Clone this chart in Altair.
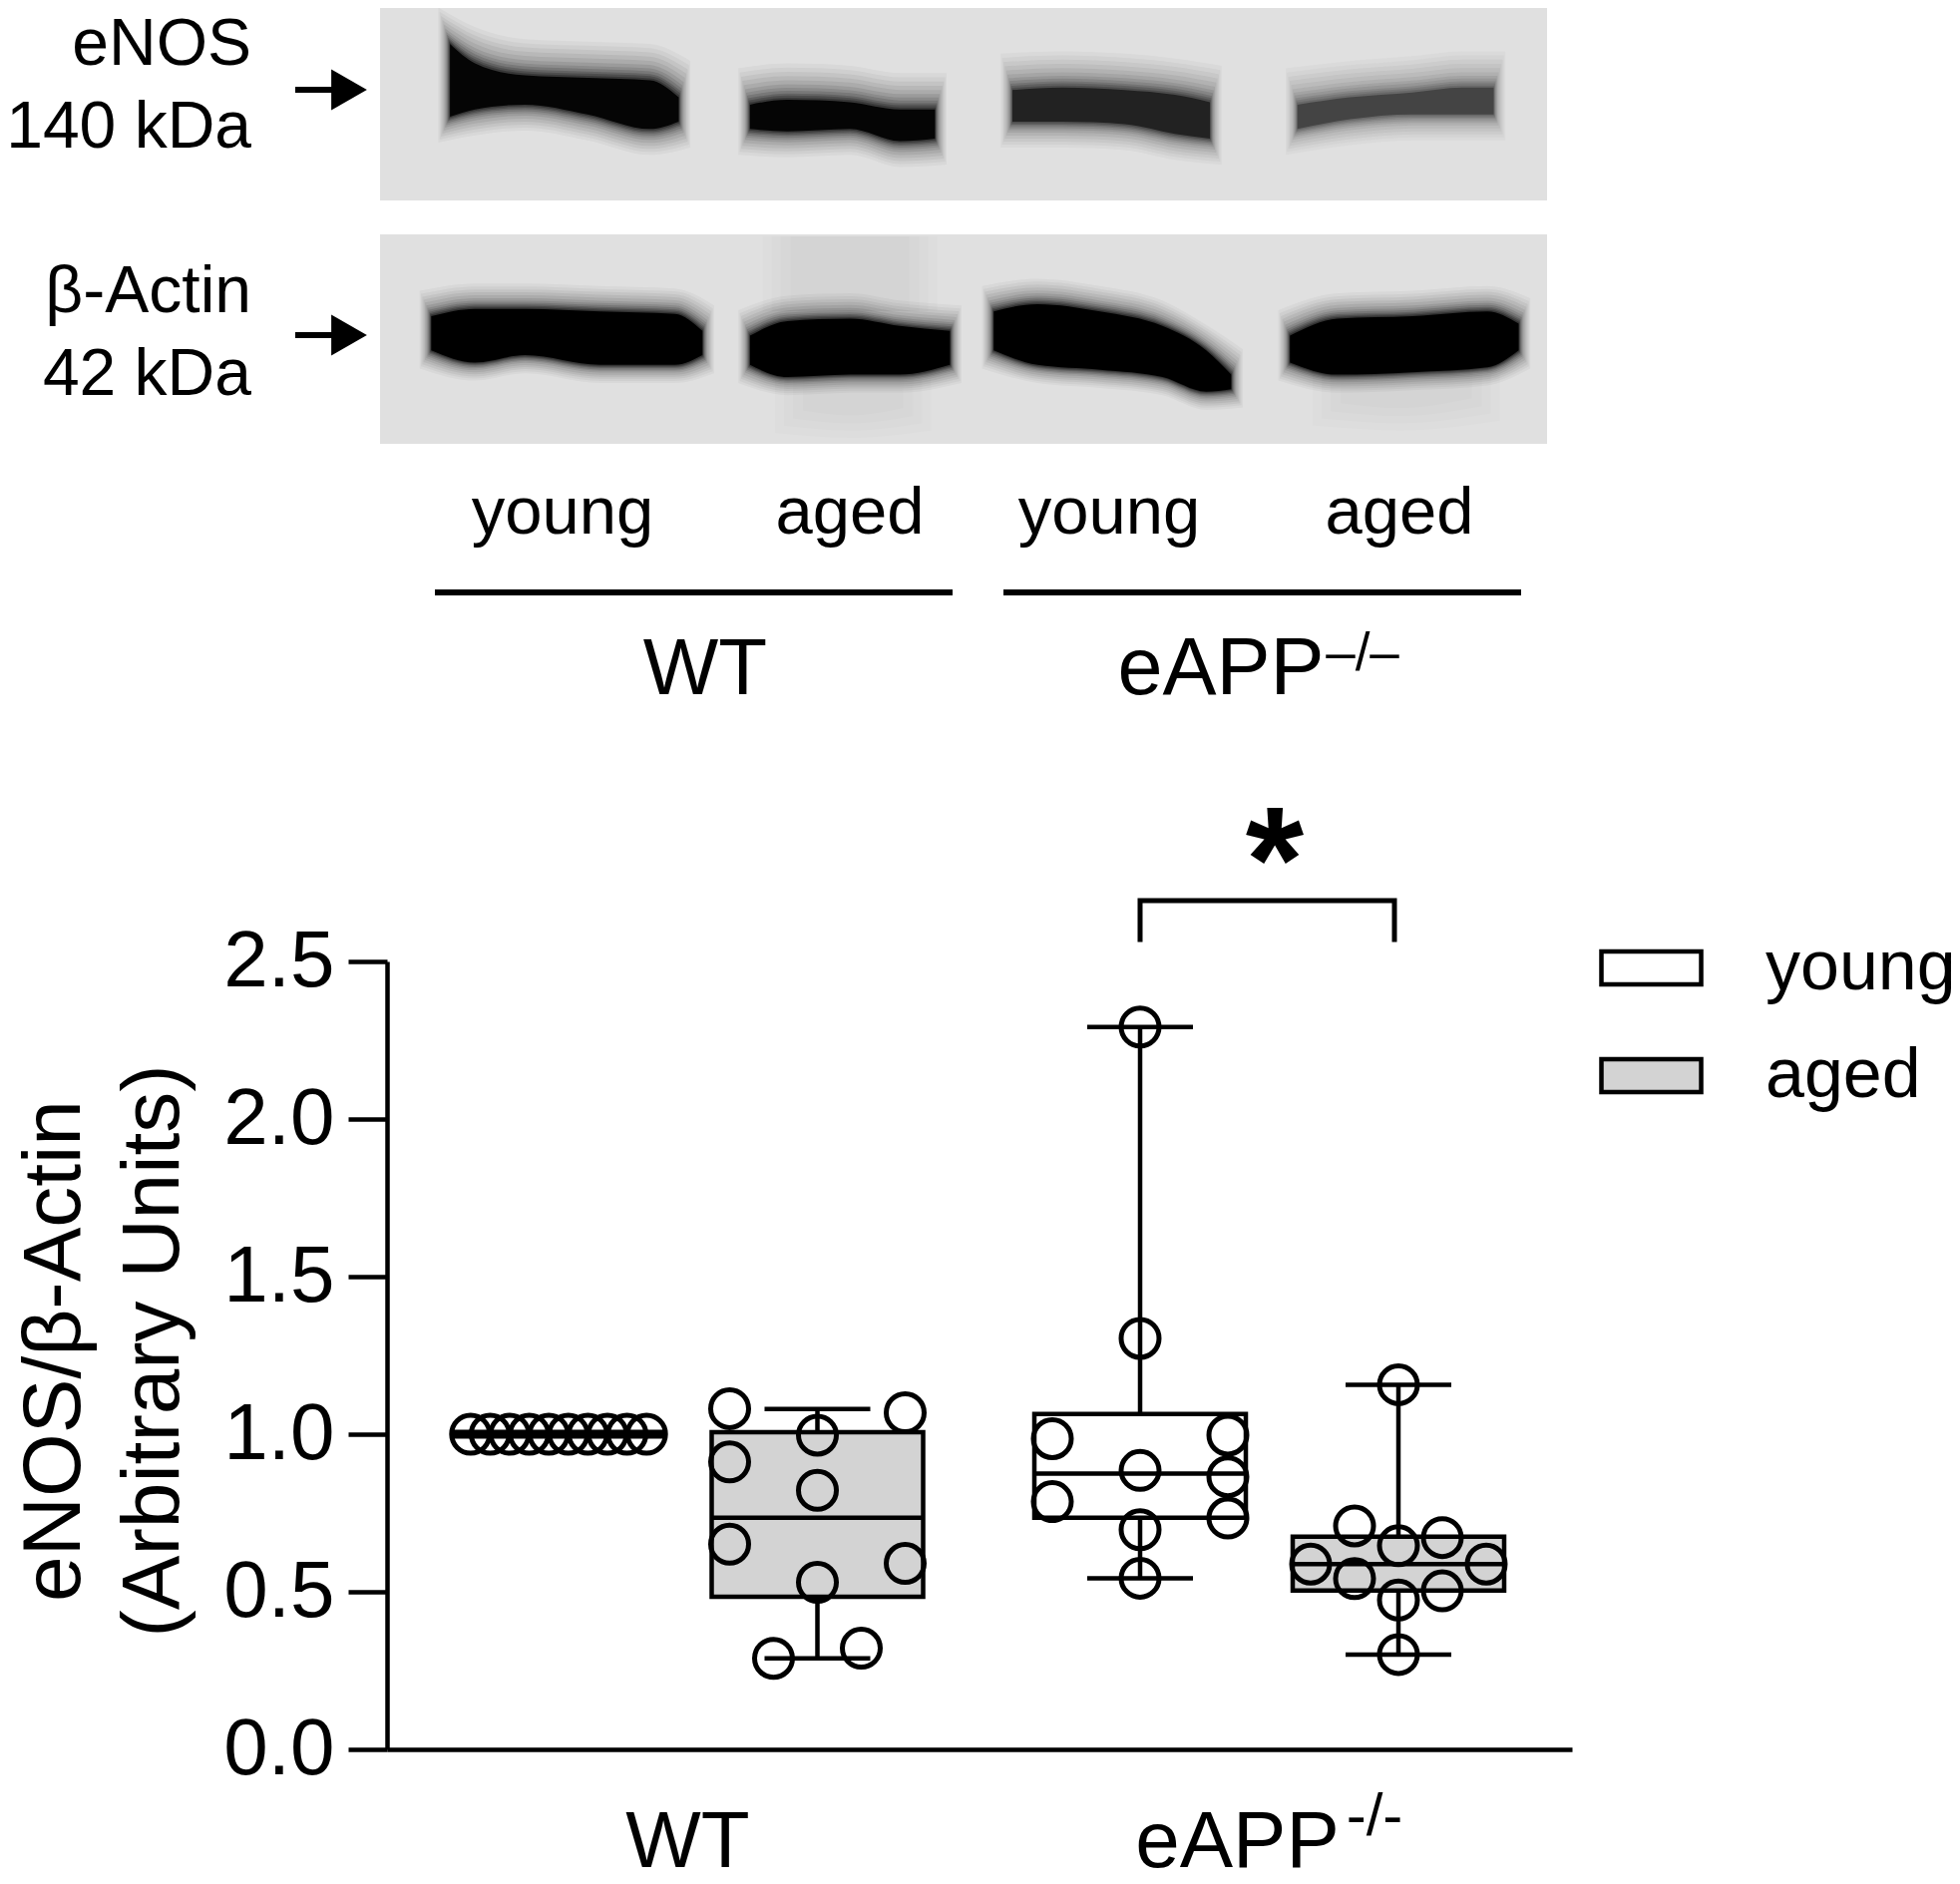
import altair as alt
import pandas as pd

FONT = "Liberation Sans"
# ---------- measured values ----------
AGES = ["young", "aged"]
GROUPS = ["WT", "eAPP"]
SLOT_X = {"WT young": 560, "WT aged": 819.5, "eAPP young": 1143, "eAPP aged": 1402}
SLOT_AGE = {"WT young": "young", "WT aged": "aged", "eAPP young": "young", "eAPP aged": "aged"}

wt_young = [1.0] * 10
wt_young_col = [-9, -7, -5, -3, -1, 1, 3, 5, 7, 9]
wt_aged = [1.081, 1.068, 0.997, 0.912, 0.822, 0.651, 0.590, 0.530, 0.321, 0.289]
wt_aged_col = [-2, 2, 0, -2, 0, -2, 2, 0, 1, -1]
ko_young = [2.292, 1.304, 0.997, 0.986, 0.885, 0.865, 0.786, 0.734, 0.697, 0.543]
ko_young_col = [0, 0, 2, -2, 0, 2, -2, 2, 0, 0]
ko_aged = [1.157, 0.709, 0.672, 0.646, 0.588, 0.588, 0.542, 0.503, 0.474, 0.301]
ko_aged_col = [0, -1, 1, 0, -2, 2, -1, 1, 0, 0]

# box stats: low whisker, q1, median, q3, high whisker
box_stats = {
    "WT young": [1.0, 0.993, 1.0, 1.007, 1.0],
    "WT aged": [0.289, 0.484, 0.735, 1.006, 1.08],
    "eAPP young": [0.543, 0.735, 0.875, 1.064, 2.292],
    "eAPP aged": [0.301, 0.504, 0.588, 0.675, 1.157],
}

# blot band outlines: x, top, bottom, darkness
bands = [
    ([360, 380, 420, 470, 520, 543], [90, 130, 155, 160, 165, 200], [240, 225, 215, 235, 265, 250], "#050505"),
    ([600, 630, 680, 720, 748], [215, 205, 210, 225, 225], [265, 270, 265, 290, 285], "#050505"),
    ([810, 850, 900, 940, 968], [185, 180, 185, 195, 210], [250, 250, 255, 275, 285], "#222222"),
    ([1038, 1080, 1130, 1170, 1195], [215, 200, 190, 180, 180], [265, 245, 235, 235, 235], "#444444"),
    ([345, 380, 420, 480, 540, 562], [650, 635, 635, 640, 645, 680], [720, 745, 730, 750, 750, 730], "#000000"),
    ([600, 630, 680, 720, 760], [690, 660, 655, 670, 680], [750, 775, 770, 770, 750], "#000000"),
    ([795, 830, 880, 930, 965, 985], [640, 625, 640, 670, 720, 770], [720, 750, 760, 775, 805, 800], "#000000"),
    ([1032, 1070, 1130, 1190, 1215], [690, 655, 650, 640, 665], [745, 770, 765, 755, 720], "#000000"),
]
smears = [
    ([610, 680, 750], [486, 486, 486], [640, 640, 640]),
    ([620, 680, 745], [780, 780, 780], [890, 900, 885]),
    ([1050, 1120, 1200], [770, 770, 770], [875, 885, 865]),
]
smear_levels = [28, 18, 9, 0]
halo_levels = [(26, 0.035), (23, 0.04), (20, 0.05), (17, 0.06), (14, 0.07), (11, 0.09), (8.5, 0.11), (6.5, 0.14), (4.5, 0.18), (3, 0.22), (1.5, 0.3)]

# ---------- geometry of the plot ----------
LEFT, TOP, W, H = 388, 964, 1188, 790
PXY = 316.0
def vx(p): return p - LEFT
def vy(p): return (TOP + H - p) / PXY
ZX, ZY = 0.798, 2.05

X_SCALE = alt.Scale(domain=[0, W], nice=False, zero=False)
Y_SCALE = alt.Scale(domain=[0, 2.5], nice=False, zero=False)
X_AXIS = alt.Axis(values=[vx(689), vx(1240)], labelExpr=f"datum.value < 500 ? '{GROUPS[0]}' : '{GROUPS[1]}'",
                  title=None, ticks=False, grid=False, domainWidth=4.5, domainColor="black",
                  labelFontSize=80, labelPadding=54, labelColor="black", labelFont=FONT, labelFlush=False,
                  labelOverlap=False, labelLimit=500)
Y_AXIS = alt.Axis(values=[0, 0.5, 1.0, 1.5, 2.0, 2.5], format=".1f", title=["eNOS/β-Actin", "(Arbitrary Units)"],
                  titleFontSize=82, titleFontWeight="normal", titleFont=FONT, titleColor="black",
                  titleLineHeight=99, titleX=-292, titleY=390, titleAngle=270, titleLimit=900,
                  tickSize=39, tickWidth=4.5, tickColor="black", domainWidth=4.5, domainColor="black",
                  grid=False, labelFontSize=80, labelPadding=14, labelColor="black", labelFont=FONT)
def AX(f): return alt.X(f, scale=X_SCALE, axis=X_AXIS)
def AY(f): return alt.Y(f, scale=Y_SCALE, axis=Y_AXIS)

# ---------- box plot tables ----------
rows_box, rows_pts = [], []
for slot, s in box_stats.items():
    c = SLOT_X[slot]
    rows_box.append(dict(slot=slot, age=SLOT_AGE[slot], c=vx(c), l=vx(c - 106), r=vx(c + 106), capl=vx(c - 53), capr=vx(c + 53),
                         lo=s[0], q1=s[1], med=s[2], q3=s[3], hi=s[4]))
for slot, vals, cols, step in [("WT young", wt_young, wt_young_col, 9.8), ("WT aged", wt_aged, wt_aged_col, 44),
                               ("eAPP young", ko_young, ko_young_col, 44), ("eAPP aged", ko_aged, ko_aged_col, 44)]:
    for v, k in zip(vals, cols):
        rows_pts.append(dict(x=vx(SLOT_X[slot] + k * step), y=v))
box = pd.DataFrame(rows_box)
pts = pd.DataFrame(rows_pts)

base_box = alt.Chart(box)
BK = dict(stroke="black", strokeWidth=4.5)
box_rect = base_box.mark_rect(**BK).encode(
    x=AX("l:Q"), x2="r:Q", y=AY("q1:Q"), y2="q3:Q",
    fill=alt.Fill("age:N", scale=alt.Scale(domain=AGES, range=["#ffffff", "#d3d3d3"]),
                  legend=alt.Legend(title=None, orient="none", legendX=1215, legendY=-46, symbolType="M-1,-0.33H1V0.33H-1Z",
                                    symbolSize=10000, symbolStrokeColor="black", symbolStrokeWidth=4.5, labelFontSize=70,
                                    labelFont=FONT, labelColor="black", labelOffset=62, rowPadding=20, labelLimit=400)))
wh_hi = base_box.mark_rule(**BK).encode(x=AX("c:Q"), y=AY("q3:Q"), y2="hi:Q")
wh_lo = base_box.mark_rule(**BK).encode(x=AX("c:Q"), y=AY("lo:Q"), y2="q1:Q")
cap_hi = base_box.mark_rule(**BK).encode(x=AX("capl:Q"), x2="capr:Q", y=AY("hi:Q"))
cap_lo = base_box.mark_rule(**BK).encode(x=AX("capl:Q"), x2="capr:Q", y=AY("lo:Q"))
med = base_box.mark_rule(**BK).encode(x=AX("l:Q"), x2="r:Q", y=AY("med:Q"))
circles = alt.Chart(pts).mark_point(shape="circle", size=1444, filled=False, stroke="black", strokeWidth=5, opacity=1).encode(x=AX("x:Q"), y=AY("y:Q"))

# ---------- blot ----------
panels = pd.DataFrame(dict(x=[vx(381), vx(381)], x2=[vx(1551), vx(1551)], y=[vy(5), vy(235)], y2=[vy(201), vy(445)]))
panel = alt.Chart(panels).mark_rect(fill="#e0e0e0").encode(x=AX("x:Q"), x2="x2:Q", y=AY("y:Q"), y2="y2:Q")
band_layers = []
def band_frame(e):
    rows = []
    for i, (xs, t, b, col) in enumerate(bands):
        last = len(xs) - 1
        k = 0.7 if i >= 4 else 1.0
        for j, (xx, tt, bb) in enumerate(zip(xs, t, b)):
            dx = -e * 0.45 if j == 0 else (e * 0.45 if j == last else 0)
            rows.append(dict(band=i, col=col, x=vx(xx / ZX + dx), y=vy(tt / ZY - e * 1.4 * k), y2=vy(bb / ZY + e * k)))
    return pd.DataFrame(rows)
for e, op in halo_levels + [(0, 1.0)]:
    band_layers.append(alt.Chart(band_frame(e)).mark_area(interpolate="monotone", opacity=op).encode(
        x=AX("x:Q"), y=AY("y:Q"), y2="y2:Q", detail="band:N", color=alt.Color("col:N", scale=None)))
smear_layers = []
for e in smear_levels:
    sm_rows = []
    for i, (xs, t, b) in enumerate(smears):
        last = len(xs) - 1
        for j, (xx, tt, bb) in enumerate(zip(xs, t, b)):
            inset = e if j == 0 else (-e if j == last else 0)
            sm_rows.append(dict(band=i, x=vx(xx / ZX + inset), y=vy(tt / ZY), y2=vy(bb / ZY - (e * 0.8 if i else 0))))
    smear_layers.append(alt.Chart(pd.DataFrame(sm_rows)).mark_area(interpolate="monotone", color="#000000", opacity=0.011).encode(
        x=AX("x:Q"), y=AY("y:Q"), y2="y2:Q", detail="band:N"))

# ---------- rules, arrows, bracket ----------
rules = pd.DataFrame(dict(x=[vx(436), vx(1006)], x2=[vx(955), vx(1525)], y=[vy(594), vy(594)]))
lane_rules = alt.Chart(rules).mark_rule(stroke="black", strokeWidth=6).encode(x=AX("x:Q"), x2="x2:Q", y=AY("y:Q"))
ar_y = [90, 336]
shafts = pd.DataFrame(dict(x=[vx(296)] * 2, x2=[vx(345)] * 2, y=[vy(a) for a in ar_y]))
arrow_shafts = alt.Chart(shafts).mark_rule(stroke="black", strokeWidth=6).encode(x=AX("x:Q"), x2="x2:Q", y=AY("y:Q"))
heads = pd.DataFrame(dict(x=[vx(350)] * 2, y=[vy(a) for a in ar_y]))
arrow_heads = alt.Chart(heads).mark_point(shape="triangle-right", size=1700, filled=True, fill="black", opacity=1, strokeWidth=0).encode(x=AX("x:Q"), y=AY("y:Q"))
br = pd.DataFrame(dict(x=[vx(1143), vx(1143), vx(1398), vx(1398)], y=[vy(942), vy(903), vy(903), vy(942)], o=[0, 1, 2, 3]))
bracket = alt.Chart(br).mark_line(stroke="black", strokeWidth=5, strokeCap="square", strokeJoin="miter").encode(x=AX("x:Q"), y=AY("y:Q"), order="o:Q")

# ---------- text ----------
def text_layer(items, align, weight="normal"):
    df = pd.DataFrame(items, columns=["t", "x", "y", "fs"])
    df["x"] = df["x"].map(vx)
    df["y"] = df["y"].map(vy)
    return alt.Chart(df).mark_text(align=align, baseline="alphabetic", font=FONT, color="black", fontWeight=weight).encode(
        x=AX("x:Q"), y=AY("y:Q"), text="t:N", size=alt.Size("fs:Q", scale=None, legend=None))
txt_right = text_layer([("eNOS", 252, 65, 66), ("140 kDa", 252, 148, 66),
                        ("β-Actin", 252, 313, 66), ("42 kDa", 252, 396, 66)], "right")
txt_center = text_layer([("young", 564, 535, 67), ("aged", 852, 535, 67),
                         ("young", 1112, 535, 67), ("aged", 1403, 535, 67),
                         ("WT", 707, 696, 80), ("eAPP", 1224, 696, 81)], "center")
txt_sup = text_layer([("–/–", 1366, 672, 53), ("-/-", 1378, 1840, 60)], "center")
txt_star = text_layer([("*", 1278, 914, 150)], "center", "bold")

chart = alt.layer(
    panel, *smear_layers, *band_layers, lane_rules, arrow_shafts, arrow_heads,
    box_rect, wh_hi, wh_lo, cap_hi, cap_lo, med, circles, bracket, txt_right, txt_center, txt_sup, txt_star
).properties(
    width=W, height=H,
    padding={"left": LEFT - 8, "top": TOP - 8, "right": 380, "bottom": 130},
    autosize=alt.AutoSizeParams(type="none"),
    background="white",
).configure_view(stroke=None)

chart.save("out.html", embed_options={"renderer": "svg", "actions": False})
